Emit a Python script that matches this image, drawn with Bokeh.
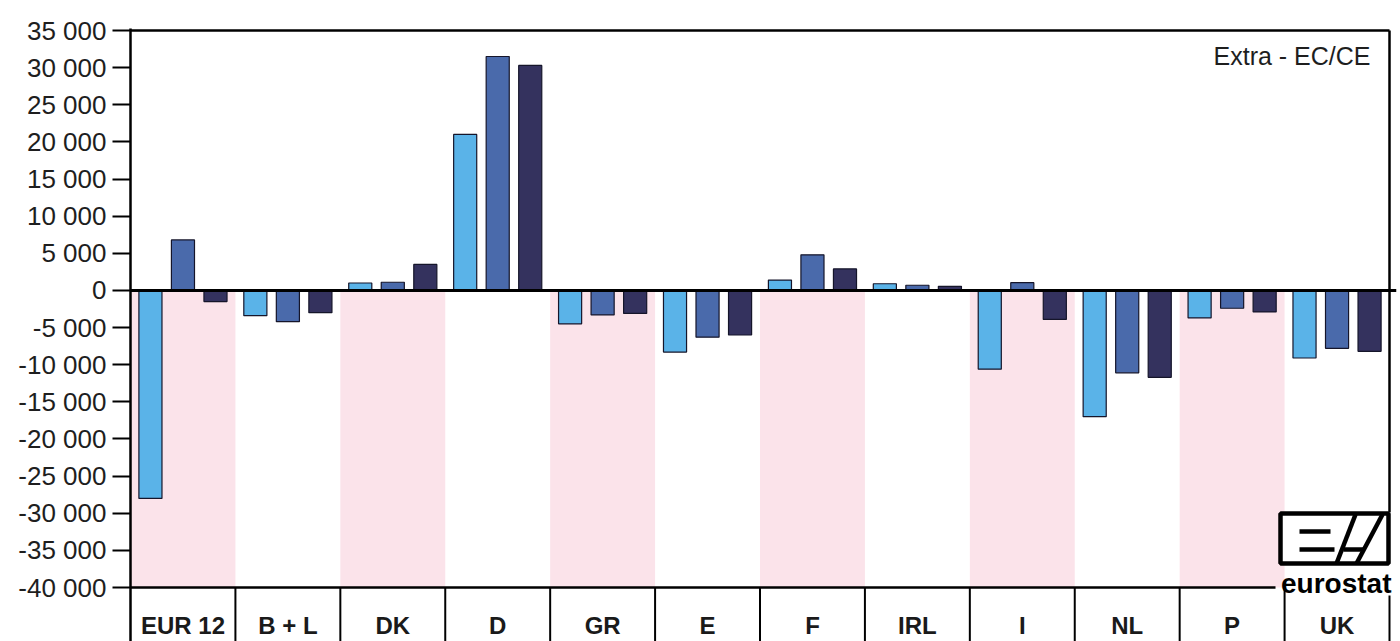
from bokeh.plotting import figure
from bokeh.models import Range1d, FixedTicker, LinearAxis, Span, Label
from bokeh.core.properties import value
from bokeh.embed import file_html
from bokeh.resources import INLINE

# ---------------- data ----------------
categories = ["EUR 12", "B + L", "DK", "D", "GR", "E", "F", "IRL", "I", "NL", "P", "UK"]
series_1 = [-28000, -3400, 1000, 21000, -4500, -8300, 1400, 900, -10600, -17000, -3700, -9100]
series_2 = [6800, -4200, 1100, 31500, -3300, -6300, 4800, 700, 1050, -11100, -2400, -7800]
series_3 = [-1500, -3000, 3500, 30300, -3100, -6000, 2900, 550, -3900, -11700, -2900, -8200]
shaded = [True, False, True, False, True, False, True, False, True, False, True, False]
y_ticks = [-40000, -35000, -30000, -25000, -20000, -15000, -10000, -5000,
           0, 5000, 10000, 15000, 20000, 25000, 30000, 35000]
y_min, y_max = -40000, 35000
corner_text = "Extra - EC/CE"
logo_text = "eurostat"

# ---------------- style / layout ----------------
colors = ["#5ab3e8", "#4a6aab", "#34325e"]
offsets = [-0.31, 0.0, 0.31]
pink = "#fbe3ea"
FONT = "Liberation Sans"
n = len(categories)
W, H = 1400, 641
# page pixels of the chart box (top = y_max, bottom = y_min, left = 0, right = n)
FL, FT, FR, FB = 130, 30, 1389, 587
frame_top, frame_right = 28, 1396          # canvas frame edges (frame bottom = H)
ux = n / (FR - FL)                          # data units per pixel
uy = (y_max - y_min) / (FB - FT)

def X(px):
    return (px - FL) * ux
def Y(py):
    return y_max - (py - FT) * uy

p = figure(width=W, height=H,
           x_range=Range1d(0, X(frame_right)), y_range=Range1d(Y(H), Y(frame_top)),
           output_backend="svg", toolbar_location=None,
           x_axis_location=None, y_axis_location=None,
           min_border_left=FL, min_border_right=W - frame_right,
           min_border_top=frame_top, min_border_bottom=0)
p.background_fill_color = "white"
p.border_fill_color = "white"
p.outline_line_color = None
p.xgrid.visible = False
p.ygrid.visible = False

# y axis
yax = LinearAxis(ticker=FixedTicker(ticks=y_ticks, minor_ticks=[]),
                 major_label_overrides={t: f"{t:,}".replace(",", " ") for t in y_ticks},
                 major_tick_out=18, major_tick_in=0, minor_tick_out=0, minor_tick_in=0,
                 major_tick_line_width=2, major_tick_line_color="black",
                 axis_line_width=2.5, axis_line_color="black",
                 major_label_standoff=6,
                 major_label_text_font=FONT, major_label_text_font_size="26px",
                 major_label_text_color="#1e1e1e")
p.add_layout(yax, "left")

# pink shading of negative area
shade_idx = [i for i, s in enumerate(shaded) if s]
p.quad(left=shade_idx, right=[i + 1 for i in shade_idx], top=0, bottom=y_min,
       fill_color=pink, line_color=None)

# bars
for vals, off, col in zip([series_1, series_2, series_3], offsets, colors):
    p.vbar(x=[i + 0.5 + off for i in range(n)], top=vals, bottom=0, width=0.22,
           fill_color=col, line_color="#15152a", line_width=1.2)

# box lines: top, right (down to logo), bottom (up to logo text), zero line
p.segment(x0=[0], y0=[y_max], x1=[n], y1=[y_max], line_color="black", line_width=2.5)
p.segment(x0=[n], y0=[y_max], x1=[n], y1=[Y(512)], line_color="black", line_width=2.5)
p.segment(x0=[0], y0=[y_min], x1=[X(1275)], y1=[y_min], line_color="black", line_width=2.5)
p.add_layout(Span(location=0, dimension="width", line_color="black", line_width=3))

# category separators below the box
seps = list(range(1, n))
p.segment(x0=seps, y0=[y_min] * len(seps), x1=seps, y1=[Y(H)] * len(seps),
          line_color="black", line_width=2)
p.segment(x0=[n], y0=[Y(595)], x1=[n], y1=[Y(H)], line_color="black", line_width=2)

# category labels
p.text(x=[i + 0.5 for i in range(n)], y=[Y(625)] * n, text=categories,
       text_align="center", text_baseline="alphabetic", text_font=value(FONT),
       text_font_style="bold", text_font_size="24px", text_color="#1a1a1a")

p.add_layout(Label(x=n, y=y_max, x_offset=-19, y_offset=-25, text=corner_text,
                   text_align="right", text_baseline="alphabetic", text_font=FONT,
                   text_font_size="25px", text_color="#1e1e1e"))

# eurostat logo (decoration)
p.quad(left=[X(1280)], right=[X(1388)], top=[Y(513)], bottom=[Y(563)],
       fill_color="white", line_color="black", line_width=4.5)
segs = [((1299, 531), (1330, 531)),
        ((1299, 549), (1334, 549)),
        ((1336, 563), (1355, 514)),
        ((1343, 549), (1364, 549)),
        ((1356, 563), (1382, 514))]
p.multi_line(xs=[[X(a[0]), X(b[0])] for a, b in segs],
             ys=[[Y(a[1]), Y(b[1])] for a, b in segs],
             line_color="black", line_width=4.5, line_cap="butt")
p.text(x=[X(1391)], y=[Y(583)], text=[logo_text], text_align="right",
       text_baseline="alphabetic", text_font=value(FONT), text_font_style="bold",
       text_font_size="28px", text_color="black")

open("out.html", "w").write(file_html(p, INLINE))
